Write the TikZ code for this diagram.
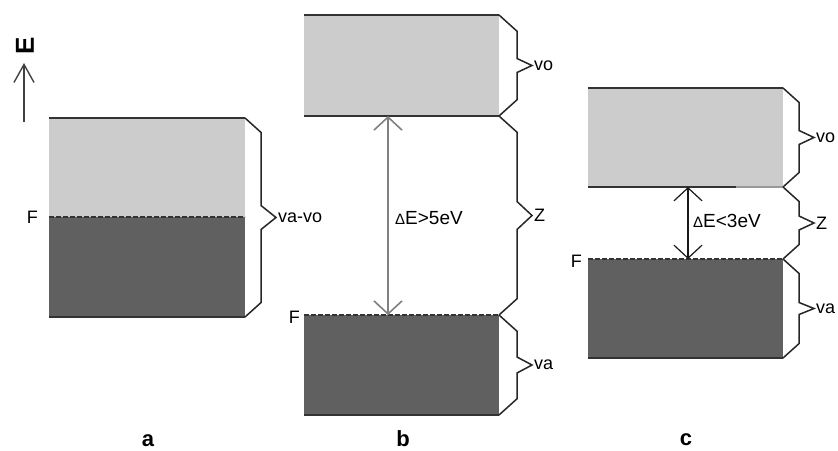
\documentclass[tikz,border=0pt]{standalone}
\usepackage{fontspec}
\setmainfont{Liberation Sans}
\usetikzlibrary{arrows.meta}
\definecolor{bandlight}{HTML}{CCCCCC}
\definecolor{banddark}{HTML}{606060}
\definecolor{edgegray}{HTML}{333333}
\tikzset{
  lightband/.style={fill=bandlight},
  darkband/.style={fill=banddark},
  edgeline/.style={draw=edgegray, line width=2pt},
  fermiline/.style={draw=edgegray, line width=2.2pt, dash pattern=on 5pt off 2pt},
  bracket/.style={draw=black!85, line width=1.5pt, line join=miter},
  lbl/.style={font=\fontsize{18}{18}\selectfont, inner sep=0pt, anchor=west},
  fermilbl/.style={font=\fontsize{18}{18}\selectfont, inner sep=0pt, anchor=east},
  gaplbl/.style={font=\fontsize{19}{19}\selectfont, inner sep=0pt, anchor=west},
  panellbl/.style={font=\bfseries\fontsize{22}{22}\selectfont, inner sep=0pt, anchor=base},
  gaparrow/.style={line width=1.6pt, {Straight Barb[length=13pt,width=28pt]}-{Straight Barb[length=13pt,width=28pt]}},
}
% bracket beside a band: x of band edge, top, bottom, corner offset, half tip, name, text
\newcommand\levelbrace[7]{%
  \pgfmathsetmacro\bx{#1+#4}%
  \pgfmathsetmacro\bm{(#2+#3)/2}%
  \pgfmathsetmacro\bc{0.9*#4}%
  \draw[bracket] (#1,#2) -- (\bx,#2+\bc) -- (\bx,\bm-#5) -- (\bx+15,\bm)
        -- (\bx,\bm+#5) -- (\bx,#3-\bc) -- (#1,#3);
  \node[lbl] (#6) at (\bx+17,\bm) {#7};
}
\begin{document}
\begin{tikzpicture}[x=1pt,y=-1pt]
\useasboundingbox (0,0) rectangle (838,450);

% energy axis
\coordinate (eaxis-foot) at (24,122);
\coordinate (eaxis-head) at (24,63);
\draw[draw=black!75, line width=1.4pt, -{Straight Barb[length=18pt,width=20pt]}] (eaxis-foot) -- (eaxis-head);
\node[font=\bfseries\fontsize{26}{26}\selectfont, inner sep=0pt, rotate=90] (eaxis) at (25,46) {E};

% ---- a : metal
\fill[lightband] (49,118) rectangle (245,217);
\fill[darkband]  (49,217) rectangle (245,317);
\draw[edgeline] (49,118) -- (245,118);
\draw[edgeline] (49,317) -- (245,317);
\draw[fermiline] (49,217) -- (245,217);
\node[fermilbl] (fa) at (38,217) {F};
\levelbrace{245}{118}{317}{16}{12}{bva}{va-vo}
\node[panellbl] (pa) at (148,446) {a};

% ---- b : insulator
\fill[lightband] (304,15) rectangle (499,116);
\fill[darkband]  (304,315) rectangle (499,415);
\draw[edgeline] (304,15) -- (499,15);
\draw[edgeline] (304,116) -- (499,116);
\draw[edgeline] (304,415) -- (499,415);
\draw[fermiline] (304,315) -- (499,315);
\node[fermilbl] (fb) at (300,317) {F};
\levelbrace{499}{15}{116}{18}{7}{bvo}{vo}
\levelbrace{499}{116}{315}{18}{14}{bz}{Z}
\levelbrace{499}{315}{415}{18}{8}{bvab}{va}
\coordinate (gb-top) at (388,116);
\coordinate (gb-bot) at (388,315);
\draw[gaparrow, draw=black!50] (gb-top) -- (gb-bot);
\node[gaplbl] (deb) at (395,218) {{\fontsize{15}{15}\selectfont Δ}E>5eV};
\node[panellbl] (pb) at (403,446) {b};

% ---- c : semiconductor
\fill[lightband] (588,88) rectangle (783,187);
\fill[darkband]  (588,259) rectangle (783,358);
\draw[edgeline] (588,88) -- (783,88);
\draw[edgeline] (588,187) -- (736,187);
\draw[edgeline, draw=black!40] (736,187) -- (783,187);
\draw[edgeline] (588,358) -- (783,358);
\draw[fermiline] (588,259) -- (783,259);
\node[fermilbl] (fc) at (582,261) {F};
\levelbrace{783}{88}{187}{16}{7}{cvo}{vo}
\levelbrace{783}{187}{259}{16}{7}{cz}{Z}
\levelbrace{783}{259}{358}{16}{6}{cva}{va}
\coordinate (gc-top) at (688,187);
\coordinate (gc-bot) at (688,259);
\draw[gaparrow, line width=1.2pt, draw=black!90] (gc-top) -- (gc-bot);
\node[gaplbl] (dec) at (693,221) {{\fontsize{15}{15}\selectfont Δ}E<3eV};
\node[panellbl] (pc) at (686,445) {c};
\end{tikzpicture}
\end{document}
